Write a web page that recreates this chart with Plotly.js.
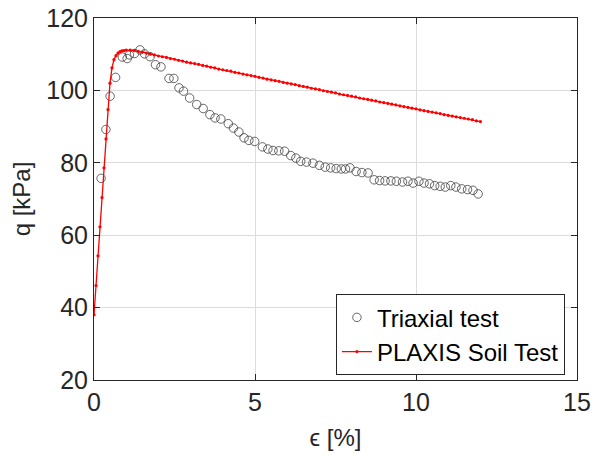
<!DOCTYPE html>
<html>
<head>
<meta charset="utf-8">
<script src="https://cdn.plot.ly/plotly-3.0.1.min.js"></script>
<style>html,body{margin:0;padding:0;background:#fff;}#chart{width:601px;height:456px;}</style>
</head>
<body>
<div id="chart"></div>
<script>
// Triaxial test (strain %, q kPa)
const triaxStrain = [0.22, 0.37, 0.50, 0.67, 0.88, 1.03, 1.10, 1.26, 1.43, 1.57, 1.74, 1.91, 2.08, 2.33, 2.48, 2.64, 2.78, 2.97, 3.19, 3.39, 3.60, 3.76, 3.94, 4.17, 4.33, 4.50, 4.66, 4.81, 4.99, 5.23, 5.40, 5.56, 5.74, 5.92, 6.11, 6.27, 6.42, 6.60, 6.80, 7.00, 7.18, 7.35, 7.52, 7.68, 7.81, 7.95, 8.14, 8.32, 8.51, 8.70, 8.87, 9.04, 9.22, 9.39, 9.58, 9.75, 9.91, 10.09, 10.25, 10.42, 10.58, 10.75, 10.91, 11.08, 11.24, 11.42, 11.60, 11.77, 11.93];
const triaxQ = [75.7, 89.2, 98.4, 103.6, 109.2, 108.8, 109.8, 110.2, 111.2, 110.1, 109.3, 107.1, 106.5, 103.3, 103.3, 100.7, 99.8, 97.9, 96.1, 95.0, 93.3, 92.4, 92.1, 90.8, 89.6, 88.5, 86.9, 86.2, 85.9, 84.4, 83.8, 83.4, 83.3, 83.2, 82.0, 81.3, 80.4, 80.2, 79.9, 79.3, 78.8, 78.6, 78.4, 78.3, 78.3, 78.6, 77.6, 77.3, 77.2, 75.3, 75.1, 75.0, 75.0, 74.9, 74.7, 74.9, 74.4, 74.9, 74.4, 74.2, 73.7, 73.5, 73.3, 73.7, 73.3, 72.8, 72.6, 72.4, 71.4];

// PLAXIS Soil Test (strain %, q kPa)
const plaxisStrain = [0, 0.062, 0.124, 0.186, 0.248, 0.31, 0.372, 0.434, 0.496, 0.558, 0.62, 0.682, 0.744, 0.806, 0.868, 0.93,
  1.0, 1.125, 1.25, 1.375, 1.5, 1.625, 1.75, 1.875, 2.0, 2.125, 2.25, 2.375, 2.5, 2.625, 2.75, 2.875,
  3.0, 3.125, 3.25, 3.375, 3.5, 3.625, 3.75, 3.875, 4.0, 4.125, 4.25, 4.375, 4.5, 4.625, 4.75, 4.875,
  5.0, 5.125, 5.25, 5.375, 5.5, 5.625, 5.75, 5.875, 6.0, 6.125, 6.25, 6.375, 6.5, 6.625, 6.75, 6.875,
  7.0, 7.125, 7.25, 7.375, 7.5, 7.625, 7.75, 7.875, 8.0, 8.125, 8.25, 8.375, 8.5, 8.625, 8.75, 8.875,
  9.0, 9.125, 9.25, 9.375, 9.5, 9.625, 9.75, 9.875, 10.0, 10.125, 10.25, 10.375, 10.5, 10.625, 10.75, 10.875,
  11.0, 11.125, 11.25, 11.375, 11.5, 11.625, 11.75, 11.875, 12.0];
const plaxisQ = [38.0, 46.1, 54.3, 62.3, 70.4, 78.6, 86.6, 94.7, 102.0, 106.2, 108.5, 109.6, 110.3, 110.7, 110.9, 111.0,
  111.1, 111.1, 111.0, 110.8, 110.6, 110.3, 110.0, 109.8, 109.5, 109.3, 109.1, 108.8, 108.6, 108.3, 108.1, 107.8,
  107.6, 107.4, 107.2, 106.9, 106.7, 106.4, 106.2, 105.9, 105.7, 105.5, 105.3, 105.0, 104.8, 104.5, 104.3, 104.1,
  103.9, 103.6, 103.4, 103.1, 102.9, 102.7, 102.5, 102.2, 102.0, 101.8, 101.6, 101.3, 101.1, 100.9, 100.6, 100.4,
  100.2, 99.9, 99.7, 99.5, 99.3, 99.0, 98.8, 98.6, 98.4, 98.2, 97.9, 97.7, 97.5, 97.3, 97.1, 96.8,
  96.6, 96.4, 96.2, 96.0, 95.7, 95.5, 95.3, 95.1, 94.9, 94.6, 94.4, 94.2, 94.0, 93.8, 93.6, 93.3,
  93.1, 92.9, 92.7, 92.5, 92.3, 92.1, 91.9, 91.6, 91.4];

const seriesNames = ['Triaxial test', 'PLAXIS Soil Test'];
const xTicks = [0, 5, 10, 15];
const yTicks = [20, 40, 60, 80, 100, 120];

const fontFam = 'Liberation Sans, Arial, Helvetica, sans-serif';
const axisColor = '#262626';

const traces = [
  {
    x: triaxStrain, y: triaxQ, name: seriesNames[0], type: 'scatter', mode: 'markers',
    marker: {symbol: 'circle-open', size: 8.5, color: '#404040', line: {width: 0.8, color: '#404040'}},
    cliponaxis: true
  },
  {
    x: plaxisStrain, y: plaxisQ, name: seriesNames[1], type: 'scatter', mode: 'lines+markers',
    line: {color: '#ff0000', width: 1.3},
    marker: {symbol: 'circle', size: 3.2, color: '#ff0000'},
    cliponaxis: true
  }
];

const commonAxis = {
  showline: true, linecolor: axisColor, linewidth: 1, mirror: 'ticks',
  ticks: 'inside', ticklen: 6, tickcolor: axisColor, tickwidth: 1,
  showgrid: true, gridcolor: '#dcdcdc', gridwidth: 1, zeroline: false,
  tickfont: {family: fontFam, size: 25, color: axisColor}
};

const layout = {
  width: 601, height: 456,
  margin: {l: 94, r: 24, t: 18, b: 76},
  paper_bgcolor: '#ffffff', plot_bgcolor: '#ffffff',
  showlegend: true,
  xaxis: Object.assign({}, commonAxis, {
    range: [0, 15], tickvals: xTicks, ticktext: xTicks.map(String),
    title: {text: 'ϵ [%]', font: {family: fontFam, size: 24, color: axisColor}, standoff: 14}
  }),
  yaxis: Object.assign({}, commonAxis, {
    range: [20, 120], tickvals: yTicks, ticktext: yTicks.map(String),
    title: {text: 'q [kPa]', font: {family: fontFam, size: 24, color: axisColor}, standoff: 8}
  }),
  legend: {
    x: 0.975, y: 0.013, xanchor: 'right', yanchor: 'bottom',
    bgcolor: '#ffffff', bordercolor: axisColor, borderwidth: 1,
    font: {family: fontFam, size: 24, color: '#000000'},
    tracegroupgap: 0, itemwidth: 30
  }
};

Plotly.newPlot('chart', traces, layout, {displayModeBar: false, staticPlot: true});
</script>
</body>
</html>
